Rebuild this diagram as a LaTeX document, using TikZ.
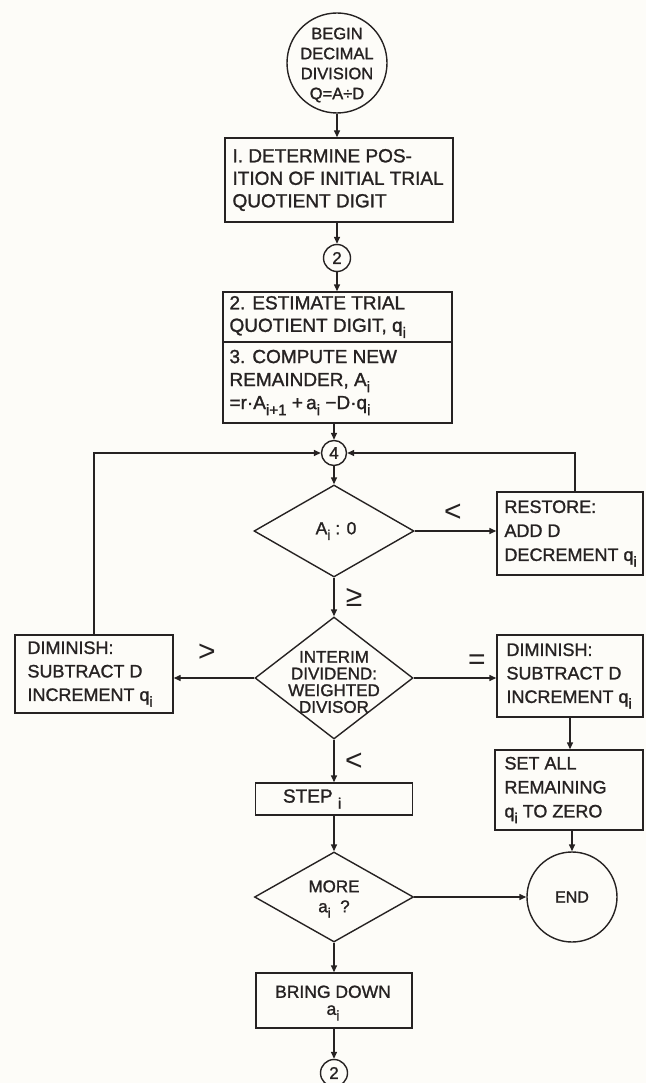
\documentclass[tikz,border=0pt]{standalone}
\usepackage{fontspec}
\setmainfont{Liberation Sans}[FakeBold=1.3]
\newfontfamily\thinfont{Liberation Sans}
\usepackage{graphicx}
\usetikzlibrary{shapes.geometric,arrows.meta,calc}
\definecolor{ink}{RGB}{38,34,34}
\definecolor{paper}{RGB}{253,252,248}
\newcommand{\fsz}[2]{\fontsize{#1}{#2}\selectfont}
\newcommand{\lsub}[1]{\raisebox{-0.32em}{\scalebox{0.8}{#1}}}
\begin{document}
\begin{tikzpicture}[x=1pt,y=-1pt,
  every node/.style={text=ink},
  ln/.style={draw=ink, line width=1.4pt},
  arr/.style={draw=ink, line width=1.4pt, -{Triangle[length=7pt,width=6pt]}},
  boxs/.style={draw=ink, line width=1.4pt, rectangle, inner sep=0pt},
  dia/.style={draw=ink, line width=1.4pt, diamond, inner sep=0pt},
  circ/.style={draw=ink, line width=1.4pt, circle, inner sep=0pt},
  txt/.style={inner sep=0pt, align=left},
  ctxt/.style={inner sep=0pt, align=center},
  rel/.style={inner sep=0pt, font=\thinfont\fsz{30}{30}}
]
\useasboundingbox (0,0) rectangle (646,1083);
\fill[paper] (0,0) rectangle (646,1083);

% --- top column ---
\node[circ, minimum size=100pt] (beg) at (337,63) {};
\node[ctxt, font=\fsz{16.5}{20}] (begt) at (337,65) {BEGIN\\DECIMAL\\DIVISION\\Q=A÷D};

\node[boxs, minimum width=228pt, minimum height=84pt] (b1) at (339,180) {};
\node[txt, anchor=west, font=\fsz{19}{22.5}] (b1t) at ([xshift=8pt]b1.west) {I. DETERMINE POS-\\ITION OF INITIAL TRIAL\\QUOTIENT DIGIT};

\node[circ, minimum size=27pt, font=\fsz{17}{17}] (c2) at (337,258) {2};

\node[boxs, minimum width=229pt, minimum height=50pt] (b2) at (337.5,317) {};
\node[txt, anchor=west, font=\fsz{19}{22.5}] (b2t) at ([xshift=7pt]b2.west) {2. ESTIMATE TRIAL\\QUOTIENT DIGIT, q\lsub{i}};

\node[boxs, minimum width=229pt, minimum height=81pt] (b3) at (337.5,382.5) {};
\node[txt, anchor=west, font=\fsz{19}{23}] (b3t) at ([xshift=7pt]b3.west) {3. COMPUTE NEW\\REMAINDER, A\lsub{i}\\=r·A\lsub{i+1} +\,a\lsub{i} −D·q\lsub{i}};

\node[circ, minimum size=25pt, font=\fsz{17}{17}] (c4) at (334,453) {4};

% --- first decision ---
\node[dia, minimum width=160pt, minimum height=92pt] (d1) at (334,531) {};
\node[ctxt, font=\fsz{17.5}{20}] (d1t) at (336,531) {A\lsub{i} : 0};

\node[boxs, minimum width=146pt, minimum height=83pt] (rs) at (570,533.5) {};
\node[txt, anchor=west, font=\fsz{18}{24}] (rst) at ([xshift=8pt]rs.west) {RESTORE:\\ADD D\\DECREMENT q\lsub{i}};

% --- second decision ---
\node[dia, minimum width=158pt, minimum height=122pt] (d2) at (334,678) {};
\node[ctxt, font=\fsz{17}{16.7}] (d2t) at (334,682) {INTERIM\\DIVIDEND:\\WEIGHTED\\DIVISOR};

\node[boxs, minimum width=158pt, minimum height=78pt] (lb) at (94,674) {};
\node[txt, anchor=west, font=\fsz{18}{23.5}] (lbt) at ([xshift=13pt]lb.west) {DIMINISH:\\SUBTRACT D\\INCREMENT q\lsub{i}};

\node[boxs, minimum width=146pt, minimum height=82pt] (rb) at (570,676) {};
\node[txt, anchor=west, font=\fsz{18}{23.5}] (rbt) at ([xshift=10pt]rb.west) {DIMINISH:\\SUBTRACT D\\INCREMENT q\lsub{i}};

\node[boxs, minimum width=148pt, minimum height=80pt] (sa) at (569,790) {};
\node[txt, anchor=west, font=\fsz{18}{24}] (sat) at ([xshift=10pt]sa.west) {SET ALL\\REMAINING\\q\lsub{i}\ TO ZERO};

\node[boxs, minimum width=157pt, minimum height=32pt] (st) at (334,799) {};
\node[txt, anchor=west, font=\fsz{19}{19}] (stt) at ([xshift=28pt]st.west) {STEP \lsub{i}};

% --- third decision ---
\node[dia, minimum width=159pt, minimum height=90pt] (mo) at (334,897) {};
\node[ctxt, font=\fsz{17}{20}] (mot) at (334,899) {MORE\\a\lsub{i}\ \ ?};

\node[circ, minimum size=90pt, font=\fsz{16}{16}] (en) at (572,897) {END};

\node[boxs, minimum width=156pt, minimum height=55pt] (bd) at (334,1000.5) {};
\node[ctxt, font=\fsz{17.5}{17}] (bdt) at (333,1003) {BRING DOWN\\a\lsub{i}};

\node[circ, minimum size=27pt, font=\fsz{17}{17}] (c2b) at (334,1073) {2};

% --- relation labels ---
\node[rel] (lt1) at (453,513) {<};
\node[rel] (ge1) at (354,597) {≥};
\node[rel] (gt1) at (207,653) {>};
\node[rel] (eq1) at (477,662) {=};
\node[rel] (lt2) at (354,762) {<};

% --- connectors ---
\draw[arr] (beg.south) -- (beg.south |- b1.north);
\draw[arr] (b1.south -| c2) -- (c2);
\draw[arr] (c2) -- (c2 |- b2.north);
\draw[arr] (b3.south -| c4) -- (c4);
\draw[arr] (lb.north) |- (c4.west);
\draw[arr] ([xshift=5pt]rs.north) |- (c4.east);
\draw[arr] (c4) -- (d1.north);
\draw[arr] (d1.east) -- (d1.east -| rs.west);
\draw[arr] (d1.south) -- (d2.north);
\draw[arr] (d2.west) -- (d2.west -| lb.east);
\draw[arr] (d2.east) -- (d2.east -| rb.west);
\draw[arr] (rb.south) -- (rb.south |- sa.north);
\draw[arr] (sa.south -| en) -- (en);
\draw[arr] (d2.south) -- (st.north);
\draw[arr] (st.south) -- (mo.north);
\draw[arr] (mo.east) -- (en);
\draw[arr] (mo.south) -- (bd.north);
\draw[arr] (bd.south) -- (c2b);
\end{tikzpicture}
\end{document}
